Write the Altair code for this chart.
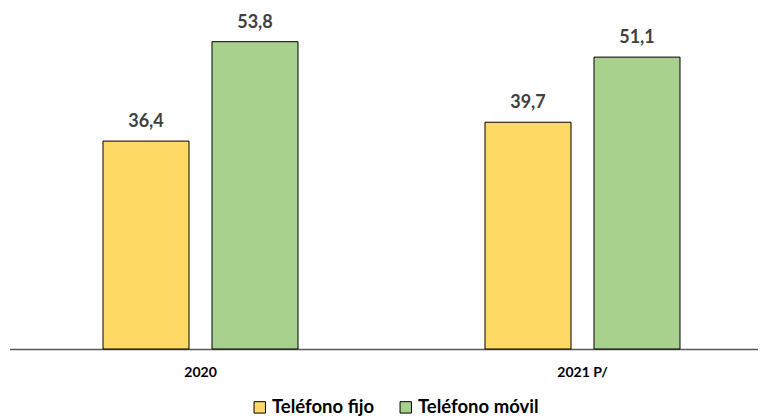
import altair as alt
import pandas as pd

years = ["2020", "2021 P/"]
series = ["Teléfono fijo", "Teléfono móvil"]
fijo = [36.4, 39.7]
movil = [53.8, 51.1]
colors = ["#FFD966", "#A9D18E"]

rows = []
for i, y in enumerate(years):
    for s, vals in zip(series, [fijo, movil]):
        v = vals[i]
        rows.append({"year": y, "serie": s, "value": v,
                     "label": f"{v:.1f}".replace(".", ",")})
df = pd.DataFrame(rows)

FONT = "Lato"

x = alt.X("year:N", sort=years, title=None,
          scale=alt.Scale(paddingInner=0, paddingOuter=0, range=[0, 764]),
          axis=alt.Axis(labelAngle=0, ticks=False, labelPadding=16,
                        labelFontSize=14, labelFontWeight="bold",
                        labelColor="#000000", labelFont=FONT,
                        domainColor="#595959", domainWidth=1.5))
xo = alt.XOffset("serie:N", sort=series,
                 scale=alt.Scale(paddingInner=0.211, paddingOuter=0.858))
y = alt.Y("value:Q", scale=alt.Scale(domain=[0, 59]), axis=None)

bars = alt.Chart(df).mark_bar(stroke="#000000", strokeWidth=1).encode(
    x=x, xOffset=xo, y=y,
    color=alt.Color("serie:N", sort=series,
                    scale=alt.Scale(domain=series, range=colors),
                    legend=alt.Legend(title=None, orient="none",
                                      direction="horizontal",
                                      legendX=241, legendY=386,
                                      symbolType="square", symbolSize=130,
                                      symbolStrokeColor="#000000",
                                      symbolStrokeWidth=1, labelOffset=3,
                                      labelFontSize=18.5, labelFontWeight="bold",
                                      labelColor="#000000", labelFont=FONT,
                                      columnPadding=22, symbolOpacity=1))
)

text = alt.Chart(df).mark_text(dy=-19, fontSize=18, fontWeight="bold",
                               color="#404040", font=FONT).encode(
    x=x, xOffset=xo, y=y, text="label:N"
)

chart = (bars + text).properties(
    width=748, height=337,
    padding={"left": 1.5, "top": 4, "right": 0, "bottom": 71},
    autosize=alt.AutoSizeParams(type="none")
).configure_view(stroke=None)

chart.save("out.html", embed_options={"renderer": "svg", "actions": False})
